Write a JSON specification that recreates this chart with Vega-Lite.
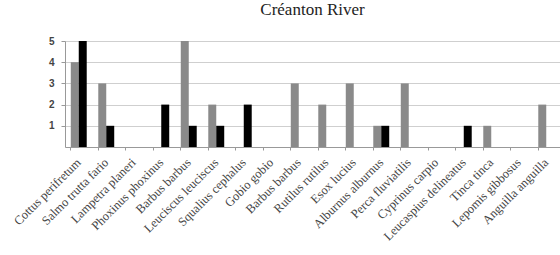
{
  "$schema": "https://vega.github.io/schema/vega-lite/v6.json",
  "width": 495,
  "height": 106,
  "autosize": "none",
  "padding": {"left": 65, "top": 41, "right": 0, "bottom": 108},
  "background": "white",
  "title": {"text": "Créanton River", "font": "Liberation Serif", "fontSize": 17, "fontWeight": "normal", "color": "#222", "offset": 17, "anchor": "middle"},
  "data": {"values": [
    {"species": "Cottus perifretum", "series": "A", "count": 4},
    {"species": "Cottus perifretum", "series": "B", "count": 5},
    {"species": "Salmo trutta fario", "series": "A", "count": 3},
    {"species": "Salmo trutta fario", "series": "B", "count": 1},
    {"species": "Lampetra planeri", "series": "A", "count": 0},
    {"species": "Lampetra planeri", "series": "B", "count": 0},
    {"species": "Phoxinus phoxinus", "series": "A", "count": 0},
    {"species": "Phoxinus phoxinus", "series": "B", "count": 2},
    {"species": "Barbus barbus", "series": "A", "count": 5},
    {"species": "Barbus barbus", "series": "B", "count": 1},
    {"species": "Leuciscus leuciscus", "series": "A", "count": 2},
    {"species": "Leuciscus leuciscus", "series": "B", "count": 1},
    {"species": "Squalius cephalus", "series": "A", "count": 0},
    {"species": "Squalius cephalus", "series": "B", "count": 2},
    {"species": "Gobio gobio", "series": "A", "count": 0},
    {"species": "Gobio gobio", "series": "B", "count": 0},
    {"species": "Barbus barbus ", "series": "A", "count": 3},
    {"species": "Barbus barbus ", "series": "B", "count": 0},
    {"species": "Rutilus rutilus", "series": "A", "count": 2},
    {"species": "Rutilus rutilus", "series": "B", "count": 0},
    {"species": "Esox lucius", "series": "A", "count": 3},
    {"species": "Esox lucius", "series": "B", "count": 0},
    {"species": "Alburnus alburnus", "series": "A", "count": 1},
    {"species": "Alburnus alburnus", "series": "B", "count": 1},
    {"species": "Perca fluviatilis", "series": "A", "count": 3},
    {"species": "Perca fluviatilis", "series": "B", "count": 0},
    {"species": "Cyprinus carpio", "series": "A", "count": 0},
    {"species": "Cyprinus carpio", "series": "B", "count": 0},
    {"species": "Leucaspius delineatus", "series": "A", "count": 0},
    {"species": "Leucaspius delineatus", "series": "B", "count": 1},
    {"species": "Tinca tinca", "series": "A", "count": 1},
    {"species": "Tinca tinca", "series": "B", "count": 0},
    {"species": "Lepomis gibbosus", "series": "A", "count": 0},
    {"species": "Lepomis gibbosus", "series": "B", "count": 0},
    {"species": "Anguilla anguilla", "series": "A", "count": 2},
    {"species": "Anguilla anguilla", "series": "B", "count": 0}
  ]},
  "mark": {"type": "bar"},
  "encoding": {
    "x": {
      "field": "species", "type": "nominal", "sort": null,
      "scale": {"paddingInner": 0.42, "paddingOuter": 0.21},
      "axis": {
        "title": null, "labelAngle": -45, "labelAlign": "right", "labelBaseline": "middle",
        "labelFont": "Liberation Serif", "labelFontSize": 12.5, "labelColor": "#444",
        "labelPadding": 10, "bandPosition": 0, "tickSize": 3, "tickColor": "#999",
        "domainColor": "#999", "grid": false, "labelOverlap": false
      }
    },
    "xOffset": {"field": "series", "type": "nominal"},
    "y": {
      "field": "count", "type": "quantitative",
      "scale": {"domain": [0, 5], "nice": false},
      "axis": {
        "title": null, "values": [1, 2, 3, 4, 5], "labelFont": "Liberation Sans", "labelFontSize": 10,
        "labelFontWeight": "bold", "labelColor": "#444", "tickSize": 4, "tickColor": "#999",
        "domainColor": "#999", "gridColor": "#cfcfcf", "labelPadding": 7
      }
    },
    "color": {
      "field": "series", "type": "nominal",
      "scale": {"domain": ["A", "B"], "range": ["#8a8a8a", "#000000"]},
      "legend": null
    }
  },
  "config": {"view": {"stroke": null}}
}
